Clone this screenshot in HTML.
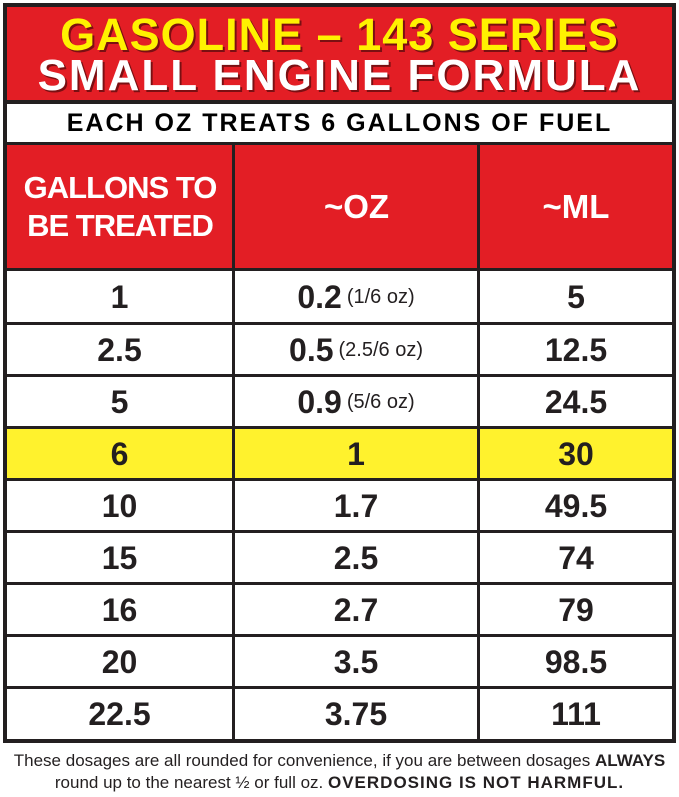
<!DOCTYPE html><html><head><style>
body{margin:0;width:679px;height:797px;background:#fff;position:relative;overflow:hidden;font-family:"Liberation Sans",sans-serif}
div{position:absolute;box-sizing:border-box}
.c{display:flex;align-items:center;justify-content:center;font-weight:bold;color:#231f20;font-size:32px}
.s{font-size:20px;font-weight:normal;margin-left:5px}
</style></head><body>
<div style="left:3px;top:3px;width:673px;height:740px;background:#231f20"></div>
<div style="left:7px;top:7px;width:665px;height:93px;background:#e31e25"></div>
<div class="c" style="left:7px;top:10px;width:665px;height:50px;color:#fff200;font-size:45px;font-weight:900;letter-spacing:1px;text-shadow:2px 2px 0 #7a0f12">GASOLINE – 143 SERIES</div>
<div class="c" style="left:7px;top:52px;width:665px;height:48px;color:#fff;font-size:44px;font-weight:900;letter-spacing:2px;text-shadow:2px 2px 0 #7a0f12">SMALL ENGINE FORMULA</div>
<div class="c" style="left:7px;top:104px;width:665px;height:38px;background:#fff;font-size:25px;font-weight:900;letter-spacing:2px;color:#000">EACH OZ TREATS 6 GALLONS OF FUEL</div>
<div style="left:7px;top:145px;width:665px;height:123px;background:#e31e25"></div>
<div class="c" style="left:7px;top:145px;width:226px;height:123px;color:#fff;font-size:31px;line-height:38px;text-align:center;letter-spacing:-1px;font-weight:900">GALLONS TO<br>BE TREATED</div>
<div class="c" style="left:235px;top:145px;width:243px;height:123px;color:#fff;font-size:33px;font-weight:900">~OZ</div>
<div class="c" style="left:480px;top:145px;width:192px;height:123px;color:#fff;font-size:33px;font-weight:900">~ML</div>
<div style="left:7px;top:271px;width:665px;height:468px;background:#fff"></div>
<div style="left:7px;top:429px;width:665px;height:50px;background:#fff22d"></div>
<div style="left:232px;top:145px;width:3px;height:594px;background:#231f20"></div>
<div style="left:477px;top:145px;width:3px;height:594px;background:#231f20"></div>
<div style="left:7px;top:322px;width:665px;height:3px;background:#231f20"></div>
<div style="left:7px;top:374px;width:665px;height:3px;background:#231f20"></div>
<div style="left:7px;top:426px;width:665px;height:3px;background:#231f20"></div>
<div style="left:7px;top:478px;width:665px;height:3px;background:#231f20"></div>
<div style="left:7px;top:530px;width:665px;height:3px;background:#231f20"></div>
<div style="left:7px;top:582px;width:665px;height:3px;background:#231f20"></div>
<div style="left:7px;top:634px;width:665px;height:3px;background:#231f20"></div>
<div style="left:7px;top:686px;width:665px;height:3px;background:#231f20"></div>

<div class="c" style="left:7px;top:271px;width:225px;height:52px">1</div><div class="c" style="left:235px;top:271px;width:242px;height:52px">0.2<span class="s">(1/6 oz)</span></div><div class="c" style="left:480px;top:271px;width:192px;height:52px">5</div>
<div class="c" style="left:7px;top:325px;width:225px;height:50px">2.5</div><div class="c" style="left:235px;top:325px;width:242px;height:50px">0.5<span class="s">(2.5/6 oz)</span></div><div class="c" style="left:480px;top:325px;width:192px;height:50px">12.5</div>
<div class="c" style="left:7px;top:377px;width:225px;height:50px">5</div><div class="c" style="left:235px;top:377px;width:242px;height:50px">0.9<span class="s">(5/6 oz)</span></div><div class="c" style="left:480px;top:377px;width:192px;height:50px">24.5</div>
<div class="c" style="left:7px;top:429px;width:225px;height:50px">6</div><div class="c" style="left:235px;top:429px;width:242px;height:50px">1</div><div class="c" style="left:480px;top:429px;width:192px;height:50px">30</div>
<div class="c" style="left:7px;top:481px;width:225px;height:50px">10</div><div class="c" style="left:235px;top:481px;width:242px;height:50px">1.7</div><div class="c" style="left:480px;top:481px;width:192px;height:50px">49.5</div>
<div class="c" style="left:7px;top:533px;width:225px;height:50px">15</div><div class="c" style="left:235px;top:533px;width:242px;height:50px">2.5</div><div class="c" style="left:480px;top:533px;width:192px;height:50px">74</div>
<div class="c" style="left:7px;top:585px;width:225px;height:50px">16</div><div class="c" style="left:235px;top:585px;width:242px;height:50px">2.7</div><div class="c" style="left:480px;top:585px;width:192px;height:50px">79</div>
<div class="c" style="left:7px;top:637px;width:225px;height:50px">20</div><div class="c" style="left:235px;top:637px;width:242px;height:50px">3.5</div><div class="c" style="left:480px;top:637px;width:192px;height:50px">98.5</div>
<div class="c" style="left:7px;top:689px;width:225px;height:50px">22.5</div><div class="c" style="left:235px;top:689px;width:242px;height:50px">3.75</div><div class="c" style="left:480px;top:689px;width:192px;height:50px">111</div>

<div style="left:0;top:750px;width:679px;text-align:center;font-size:17px;line-height:22px;color:#231f20;white-space:nowrap">These dosages are all rounded for convenience, if you are between dosages <b style="font-weight:900">ALWAYS</b><br>round up to the nearest ½ or full oz. <b style="letter-spacing:1px;font-weight:900">OVERDOSING IS NOT HARMFUL.</b></div>
</body></html>
